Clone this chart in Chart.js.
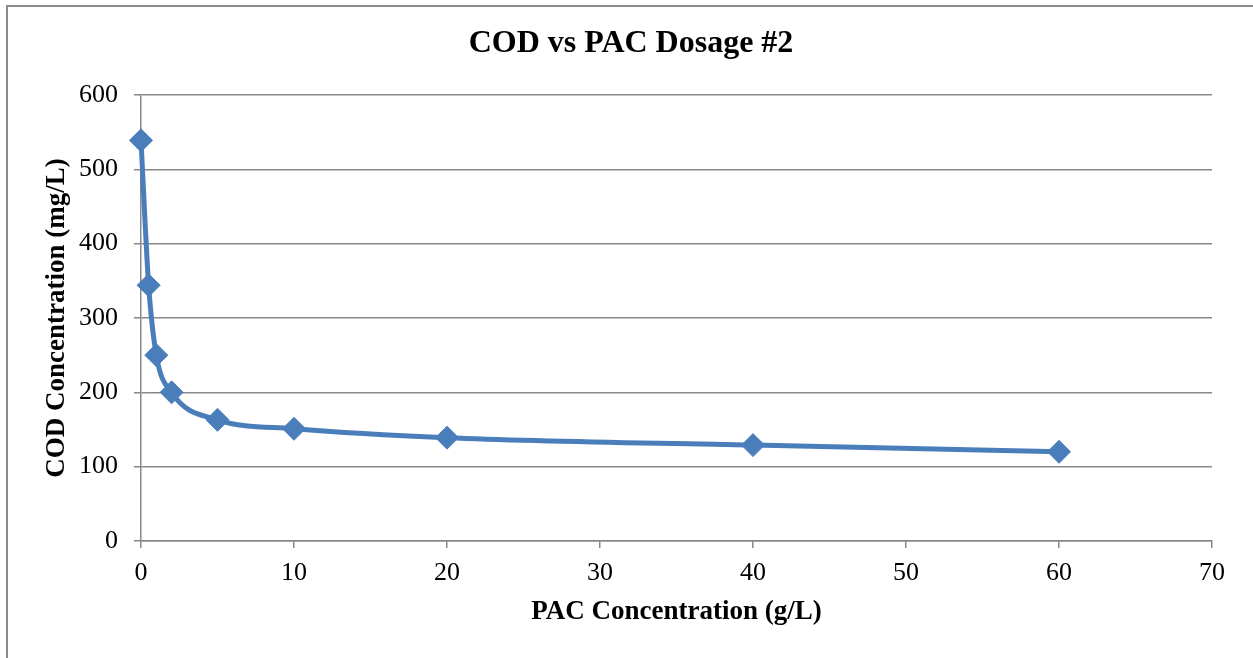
<!DOCTYPE html>
<html>
<head>
<meta charset="utf-8">
<script src="https://cdn.jsdelivr.net/npm/chart.js@4.4.1/dist/chart.umd.min.js"></script>
<style>
  html, body { margin: 0; padding: 0; background: #ffffff; }
  #wrap { position: relative; width: 1253px; height: 658px; overflow: hidden; }
  #frame { position: absolute; left: 6px; top: 5px; width: 1260px; height: 700px;
           border-left: 2px solid #8c8c8c; border-top: 2px solid #8c8c8c; box-sizing: border-box; pointer-events: none; }
  canvas { position: absolute; left: 0; top: 0; }
</style>
</head>
<body>
<div id="wrap">
  <canvas id="c" width="1253" height="658"></canvas>
  <div id="frame"></div>
</div>
<script>
// ---- data ----
const pacDose = [0, 0.5, 1, 2, 5, 10, 20, 40, 60];            // g/L
const codValues = [539, 344, 250, 200, 163, 151, 139, 129, 120]; // mg/L
const xTickValues = [0, 10, 20, 30, 40, 50, 60, 70];
const yTickValues = [0, 100, 200, 300, 400, 500, 600];
const chartTitle = 'COD vs PAC Dosage #2';
const xAxisTitle = 'PAC Concentration (g/L)';
const yAxisTitle = 'COD Concentration (mg/L)';

const points = pacDose.map((x, i) => ({ x: x, y: codValues[i] }));

const serif = "'Liberation Serif', 'Times New Roman', serif";
const gridColor = '#888888';
const seriesColor = '#4a7ebb';

new Chart(document.getElementById('c'), {
  type: 'scatter',
  data: {
    datasets: [{
      data: points,
      showLine: true,
      clip: false,
      borderColor: seriesColor,
      backgroundColor: seriesColor,
      borderWidth: 5,
      cubicInterpolationMode: 'monotone',
      pointStyle: 'rectRot',
      pointRadius: 11.5,
      pointHoverRadius: 11.5,
      pointBorderWidth: 1,
      pointBorderColor: seriesColor,
      pointBackgroundColor: seriesColor,
      yAxisID: 'y'
    }]
  },
  options: {
    responsive: false,
    animation: false,
    events: [],
    layout: { padding: { top: 0, left: 9, right: 0, bottom: 0 } },
    plugins: {
      legend: { display: false },
      tooltip: { enabled: false },
      title: {
        display: true,
        text: chartTitle,
        color: '#000000',
        font: { family: serif, size: 32, weight: 'bold', lineHeight: 1.2 },
        padding: { top: 24.3, bottom: 32.3 }
      }
    },
    scales: {
      x: {
        type: 'linear',
        min: xTickValues[0],
        max: xTickValues[xTickValues.length - 1],
        afterBuildTicks: (s) => { s.ticks = xTickValues.map(v => ({ value: v })); },
        afterFit: (s) => { s.height = 117; },
        border: { display: true, color: gridColor, width: 1.5 },
        grid: { display: true, drawOnChartArea: false, drawTicks: true, tickLength: 7, color: gridColor, lineWidth: 1.5 },
        ticks: { color: '#000000', padding: 10, font: { family: serif, size: 26 }, maxRotation: 0, autoSkip: false },
        title: {
          display: true, text: xAxisTitle, color: '#000000',
          font: { family: serif, size: 27, weight: 'bold', lineHeight: 1.2 },
          padding: { top: 0, bottom: 30 }
        }
      },
      y: {
        type: 'linear',
        position: 'left',
        min: yTickValues[0],
        max: yTickValues[yTickValues.length - 1],
        afterBuildTicks: (s) => { s.ticks = yTickValues.map(v => ({ value: v })); },
        afterFit: (s) => { s.width = 132; },
        border: { display: true, color: gridColor, width: 1.5 },
        grid: { display: true, drawOnChartArea: true, drawTicks: true, tickLength: 7, color: gridColor, lineWidth: 1.5 },
        ticks: { color: '#000000', padding: 16, font: { family: serif, size: 26 }, autoSkip: false },
        title: {
          display: true, text: yAxisTitle, color: '#000000',
          font: { family: serif, size: 27, weight: 'bold', lineHeight: 1.2 },
          padding: { top: 32, bottom: 0 }
        }
      },
      yRightSpace: {
        type: 'linear',
        position: 'right',
        display: true,
        min: yTickValues[0],
        max: yTickValues[yTickValues.length - 1],
        afterFit: (s) => { s.width = 41; },
        border: { display: false },
        grid: { display: false, drawOnChartArea: false, drawTicks: false },
        ticks: { display: false },
        title: { display: false }
      }
    }
  }
});
</script>
</body>
</html>
